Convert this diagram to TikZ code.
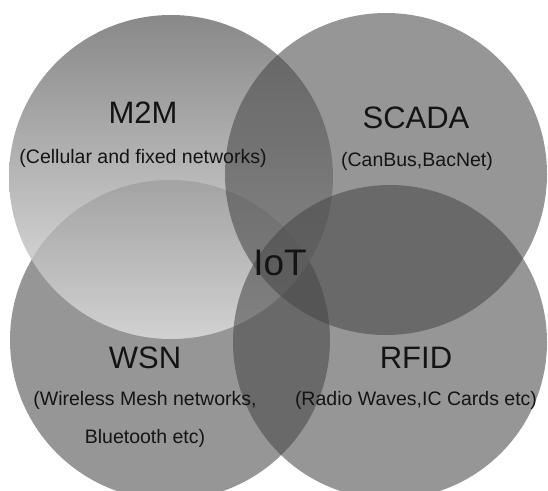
\documentclass[tikz,border=0pt]{standalone}
\usepackage{xcolor}
\usepackage{fontspec}
\setmainfont{Liberation Sans}
\usetikzlibrary{positioning}

\begin{document}
\begin{tikzpicture}[x=1pt, y=-1pt,
    setcircle/.style={circle, inner sep=0pt, outer sep=0pt, fill=black!72, fill opacity=0.57},
    settitle/.style={font=\fontsize{31}{31}\selectfont, text=black!92},
    setnote/.style={font=\fontsize{19.5}{38}\selectfont, text=black!92, align=center}]
    \useasboundingbox (0,0) rectangle (548,490);
    \clip (0,0) rectangle (548,490);
    % the four sets
    \node [setcircle, minimum size=320pt] (wsnset) at (170,340) {};
    \node [circle, inner sep=0pt, outer sep=0pt, minimum size=324pt, top color=black!58, bottom color=black!12, fill opacity=0.8] (m2mset) at (171,177) {};
    \node [setcircle, minimum size=322pt] (scadaset) at (386,174) {};
    \node [setcircle, minimum size=314pt] (rfidset) at (390,342) {};
    % labels
    \node [settitle] (m2m) at (143,113) {M2M};
    \node [setnote] (m2mnote) at (143,158) {(Cellular and fixed networks)};
    \node [settitle] (scada) at (416,118) {SCADA};
    \node [setnote] (scadanote) at (417,161) {(CanBus,BacNet)};
    \node [settitle] (wsn) at (145,358) {WSN};
    \node [setnote] (wsnnote) at (145,419) {(Wireless Mesh networks,\\Bluetooth etc)};
    \node [settitle] (rfid) at (416,358) {RFID};
    \node [setnote] (rfidnote) at (416,400) {(Radio Waves,IC Cards etc)};
    \node [font=\fontsize{37}{37}\selectfont, text=black!92] (iot) at (280,263) {IoT};
\end{tikzpicture}
\end{document}
